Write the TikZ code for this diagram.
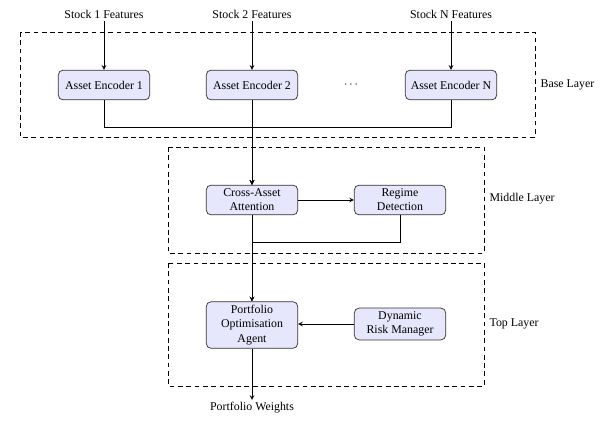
\documentclass[tikz,border=0pt]{standalone}
\usepackage{fontspec}
\setmainfont{Liberation Serif}
\usepackage{tikz}
\usepackage{xcolor}
\usetikzlibrary{arrows,positioning,calc}
\definecolor{boxfill}{RGB}{230,230,252}

\tikzset{
  block/.style={rectangle, draw=black!80, semithick, rounded corners=4pt, fill=boxfill, minimum width=77pt, minimum height=25pt, align=center, inner sep=3pt, font=\fontsize{10}{12}\selectfont},
  layer/.style={draw, dash pattern=on 4pt off 3pt, line width=0.7pt},
  flow/.style={->, >=stealth, line width=0.75pt},
  lbl/.style={font=\fontsize{10}{12}\selectfont, inner sep=2pt},
}

\begin{document}
\begin{tikzpicture}[x=0.0296cm, y=-0.0296cm]
\useasboundingbox (0,0) rectangle (604,423);

% Base layer
\draw[layer] (20,32) rectangle (535,137);
\node[lbl, anchor=west] (baselbl) at (538,85) {Base Layer};
\node[lbl] (in1) at (104,14) {Stock 1 Features};
\node[lbl] (in2) at (252,14) {Stock 2 Features};
\node[lbl] (inN) at (451,14) {Stock N Features};
\node[block] (enc1) at (104,85) {Asset Encoder 1};
\node[block] (enc2) at (252,85) {Asset Encoder 2};
\node[block] (encN) at (451,85) {Asset Encoder N};
\node[lbl] (dots) at (351,85) {$\cdots$};
\draw[flow] (in1) -- (enc1);
\draw[flow] (in2) -- (enc2);
\draw[flow] (inN) -- (encN);

% Middle layer
\draw[layer] (168,147) rectangle (484,253);
\node[lbl, anchor=west] (midlbl) at (487,199) {Middle Layer};
\node[block] (cross) at (252,200) {Cross-Asset\\Attention};
\node[block] (regime) at (400,200) {Regime\\Detection};
\coordinate (join) at (252,127);
\draw[flow] (enc2) -- (cross);
\draw[flow] (enc1.south) |- (join) -- (cross.north);
\draw[flow] (encN.south) |- (join) -- (cross.north);
\draw[flow] (cross) -- (regime);

% Top layer
\draw[layer] (168,263) rectangle (484,386);
\node[lbl, anchor=west] (toplbl) at (487,324) {Top Layer};
\node[block] (agent) at (252,325) {Portfolio\\Optimisation\\Agent};
\node[block] (risk) at (400,324) {Dynamic\\Risk Manager};
\coordinate (merge) at (252,242);
\draw[flow] (cross) -- (agent);
\draw[flow] (regime.south) |- (merge) -- (agent.north);
\draw[flow] (risk.west) -- (risk.west -| agent.east);

\node[lbl] (weights) at (252,408) {Portfolio Weights};
\draw[flow] (agent) -- (weights);
\end{tikzpicture}
\end{document}
